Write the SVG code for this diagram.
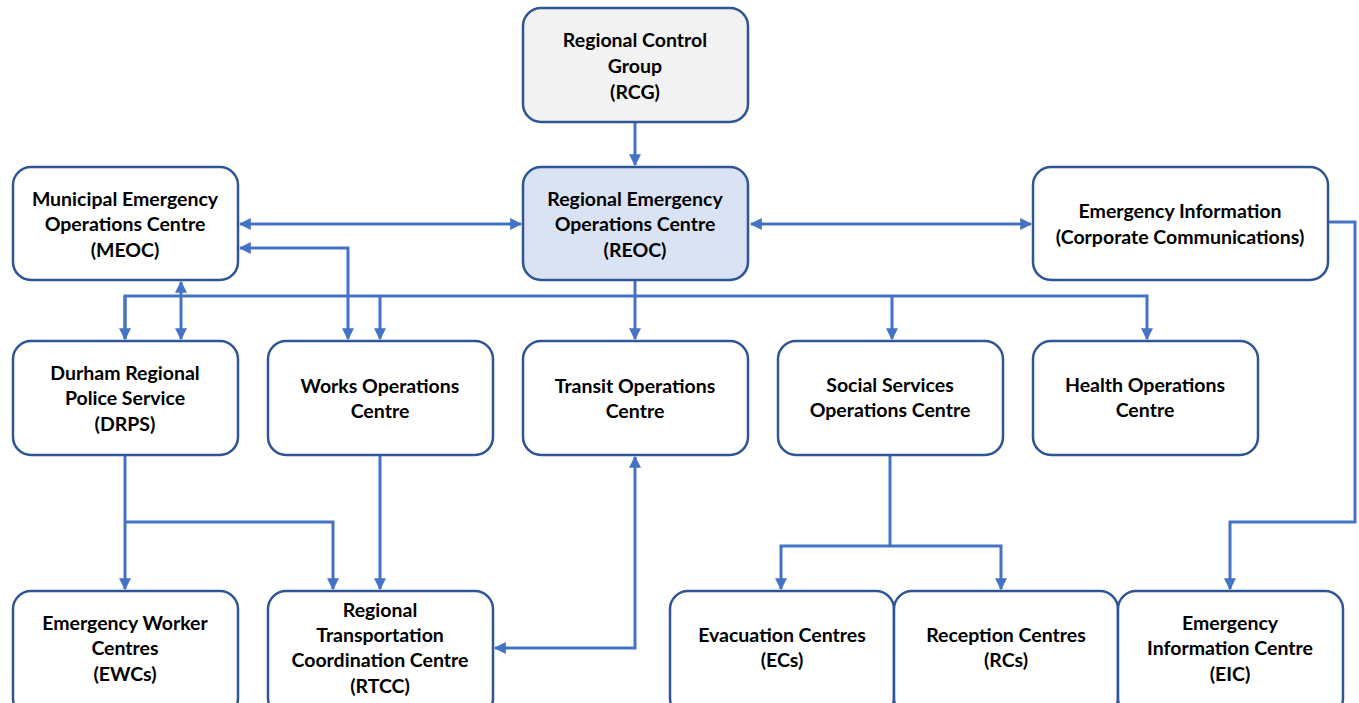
<svg xmlns="http://www.w3.org/2000/svg" width="1359" height="703" viewBox="0 0 1359 703">
<style>
.box{fill:#fff;stroke:#2F5597;stroke-width:2.5}
.t{font-family:Lato,"Liberation Sans",sans-serif;font-weight:700;font-size:19.5px;fill:#000;text-anchor:middle}
.c{fill:none;stroke:#4472C4;stroke-width:3}
</style>
<defs>
<marker id="a" viewBox="0 0 10 10" refX="9" refY="5" markerWidth="12" markerHeight="12" markerUnits="userSpaceOnUse" orient="auto-start-reverse">
<path d="M0,0 L10,5 L0,10 z" fill="#4472C4"/>
</marker>
</defs>
<rect width="1359" height="703" fill="#fff"/>
<g id="connectors">
<path class="c" d="M635,122 V165" marker-end="url(#a)"/>
<path class="c" d="M240,224 H521" marker-start="url(#a)" marker-end="url(#a)"/>
<path class="c" d="M751,224 H1031" marker-start="url(#a)" marker-end="url(#a)"/>
<path class="c" d="M240,248 H348 V339" marker-start="url(#a)" marker-end="url(#a)"/>
<path class="c" d="M635,280 V339" marker-end="url(#a)"/>
<path class="c" d="M125,339 V296 H1147 V339" marker-end="url(#a)"/>
<path class="c" d="M125,339 V296" marker-start="url(#a)"/>
<path class="c" d="M380,296 V339" marker-end="url(#a)"/>
<path class="c" d="M892,296 V339" marker-end="url(#a)"/>
<path class="c" d="M181,282 V339" marker-start="url(#a)" marker-end="url(#a)"/>
<path class="c" d="M125,455 V589" marker-end="url(#a)"/>
<path class="c" d="M125,522 H333 V589" marker-end="url(#a)"/>
<path class="c" d="M380,455 V589" marker-end="url(#a)"/>
<path class="c" d="M495,648 H635 V457" marker-start="url(#a)" marker-end="url(#a)"/>
<path class="c" d="M890,455 V546"/>
<path class="c" d="M781,589 V546 H1001 V589" marker-start="url(#a)" marker-end="url(#a)"/>
<path class="c" d="M1328,222 H1355 V522 H1230 V589" marker-end="url(#a)"/>
</g>
<g id="rcg">
<rect class="box" x="523" y="8" width="225" height="114" rx="18" style="fill:#F2F2F2"/>
<text class="t" x="635" y="47">Regional Control</text>
<text class="t" x="635" y="73">Group</text>
<text class="t" x="635" y="99">(RCG)</text>
</g>
<g id="reoc">
<rect class="box" x="523" y="167" width="225" height="113" rx="18" style="fill:#DAE3F3"/>
<text class="t" x="635" y="206">Regional Emergency</text>
<text class="t" x="635" y="231">Operations Centre</text>
<text class="t" x="635" y="257">(REOC)</text>
</g>
<g id="meoc">
<rect class="box" x="13" y="167" width="225" height="113" rx="18"/>
<text class="t" x="125" y="206">Municipal Emergency</text>
<text class="t" x="125" y="231">Operations Centre</text>
<text class="t" x="125" y="257">(MEOC)</text>
</g>
<g id="emerg-info">
<rect class="box" x="1033" y="167" width="295" height="113" rx="18"/>
<text class="t" x="1180" y="218">Emergency Information</text>
<text class="t" x="1180" y="244">(Corporate Communications)</text>
</g>
<g id="drps">
<rect class="box" x="13" y="341" width="225" height="114" rx="18"/>
<text class="t" x="125" y="380">Durham Regional</text>
<text class="t" x="125" y="405">Police Service</text>
<text class="t" x="125" y="431">(DRPS)</text>
</g>
<g id="works">
<rect class="box" x="268" y="341" width="225" height="114" rx="18"/>
<text class="t" x="380" y="393">Works Operations</text>
<text class="t" x="380" y="418">Centre</text>
</g>
<g id="transit">
<rect class="box" x="523" y="341" width="225" height="114" rx="18"/>
<text class="t" x="635" y="393">Transit Operations</text>
<text class="t" x="635" y="418">Centre</text>
</g>
<g id="social">
<rect class="box" x="778" y="341" width="225" height="114" rx="18"/>
<text class="t" x="890" y="392">Social Services</text>
<text class="t" x="890" y="417">Operations Centre</text>
</g>
<g id="health">
<rect class="box" x="1033" y="341" width="225" height="114" rx="18"/>
<text class="t" x="1145" y="392">Health Operations</text>
<text class="t" x="1145" y="417">Centre</text>
</g>
<g id="ewc">
<rect class="box" x="13" y="591" width="225" height="125" rx="18"/>
<text class="t" x="125" y="630">Emergency Worker</text>
<text class="t" x="125" y="655">Centres</text>
<text class="t" x="125" y="681">(EWCs)</text>
</g>
<g id="rtcc">
<rect class="box" x="268" y="591" width="225" height="125" rx="18"/>
<text class="t" x="380" y="617">Regional</text>
<text class="t" x="380" y="642">Transportation</text>
<text class="t" x="380" y="667">Coordination Centre</text>
<text class="t" x="380" y="693">(RTCC)</text>
</g>
<g id="evac">
<rect class="box" x="670" y="591" width="224" height="125" rx="18"/>
<text class="t" x="782" y="642">Evacuation Centres</text>
<text class="t" x="782" y="667">(ECs)</text>
</g>
<g id="reception">
<rect class="box" x="894" y="591" width="224" height="125" rx="18"/>
<text class="t" x="1006" y="642">Reception Centres</text>
<text class="t" x="1006" y="667">(RCs)</text>
</g>
<g id="eic">
<rect class="box" x="1118" y="591" width="225" height="125" rx="18"/>
<text class="t" x="1230" y="630">Emergency</text>
<text class="t" x="1230" y="655">Information Centre</text>
<text class="t" x="1230" y="681">(EIC)</text>
</g>
</svg>
